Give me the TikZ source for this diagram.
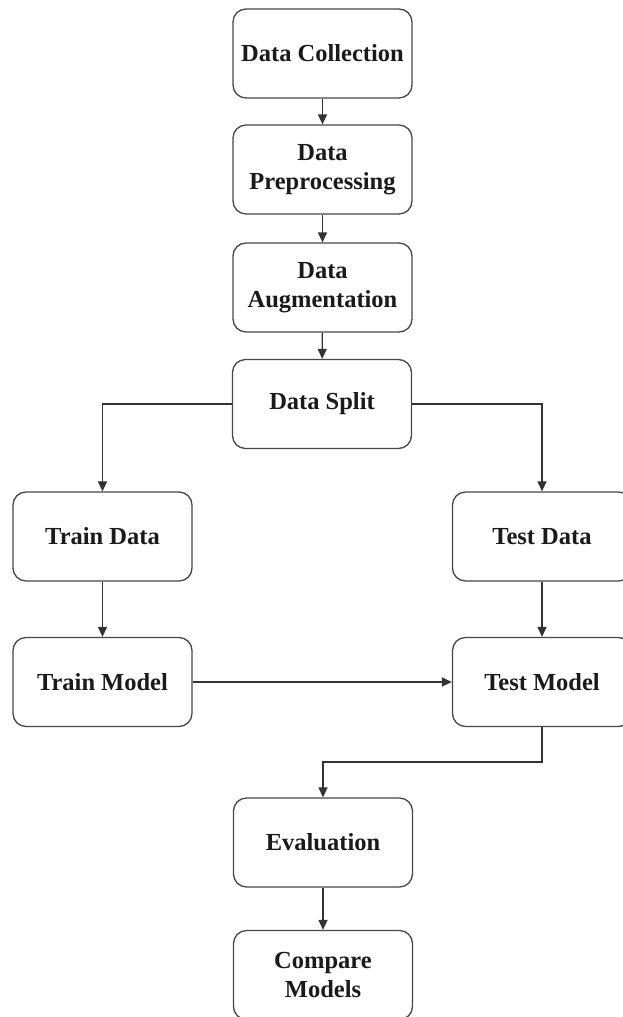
\documentclass[tikz,border=0pt]{standalone}
\usepackage{fontspec}
\setmainfont{Liberation Serif}
\usetikzlibrary{arrows.meta}
\definecolor{boxc}{HTML}{474747}
\definecolor{linec}{HTML}{333333}
\definecolor{textc}{HTML}{1A1A1A}
\begin{document}
\begin{tikzpicture}[x=1pt,y=-1pt,
  stepbox/.style={draw=boxc, line width=1.3pt, rounded corners=13pt, fill=white,
    minimum width=179pt, minimum height=89pt, align=center, inner sep=0pt,
    text=textc, font=\fontsize{24.5}{28.5}\selectfont\bfseries},
  arr/.style={draw=linec, line width=1.3pt, -{Triangle[length=10pt,width=9pt]}}]
\useasboundingbox[fill=white] (0,0) rectangle (623,1017);
\node[stepbox] (dc)  at (322.5,53.5)  {Data Collection};
\node[stepbox] (dp)  at (322.5,169.5) {Data\\Preprocessing};
\node[stepbox] (da)  at (322.5,287.5) {Data\\Augmentation};
\node[stepbox] (ds)  at (322,404)     {Data Split};
\node[stepbox] (trd) at (102.5,536.5) {Train Data};
\node[stepbox] (ted) at (542,536.5)   {Test Data};
\node[stepbox] (trm) at (102.5,682)   {Train Model};
\node[stepbox] (tem) at (542,682)     {Test Model};
\node[stepbox] (ev)  at (323,842.5)   {Evaluation};
\node[stepbox] (cm)  at (323,975)     {Compare\\Models};
\coordinate (bend) at (542,762);
\draw[arr] (dc) -- (dp);
\draw[arr] (dp) -- (da);
\draw[arr] (da) -- (ds);
\draw[arr] (ds.west) -| (trd.north);
\draw[arr] (ds.east) -| (ted.north);
\draw[arr] (trd) -- (trm);
\draw[arr] (ted) -- (tem);
\draw[arr] (trm) -- (tem);
\draw[arr] (tem.south) -- (bend) -| (ev.north);
\draw[arr] (ev) -- (cm);
\end{tikzpicture}
\end{document}
